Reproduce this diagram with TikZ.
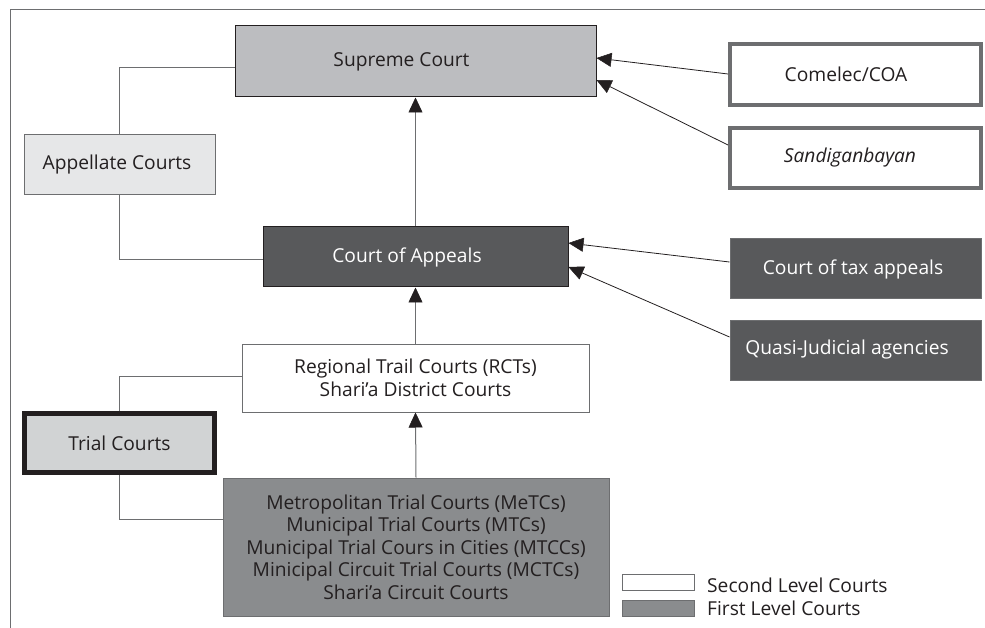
\documentclass[tikz,border=0pt]{standalone}
\usepackage{fontspec}
\setmainfont{Open Sans}
\usetikzlibrary{arrows.meta}
\definecolor{txt}{HTML}{231F20}
\definecolor{supfill}{HTML}{BCBDC0}
\definecolor{appfill}{HTML}{E6E7E8}
\definecolor{darkfill}{HTML}{58595B}
\definecolor{trialfill}{HTML}{D1D3D4}
\definecolor{firstfill}{HTML}{8A8C8E}
\definecolor{linegray}{HTML}{6D6E70}
\definecolor{thickgray}{HTML}{6D6E70}
\tikzset{
  box/.style={draw=txt, line width=1pt, rectangle, inner sep=0pt, font=\fontsize{19.2}{22.5}\selectfont, text=txt, align=center},
  thinline/.style={draw=linegray, line width=1pt},
  arr/.style={draw=txt, line width=0.8pt, -{Triangle[length=15pt,width=14pt,color=txt,line width=0.5pt]}},
  varr/.style={draw=linegray, line width=1pt, -{Triangle[length=15pt,width=14pt,color=txt,line width=0.5pt]}},
  legtext/.style={anchor=base west, font=\fontsize{19.2}{22.5}\selectfont, text=txt, inner sep=0pt},
}
\begin{document}
\begin{tikzpicture}[x=1pt,y=-1pt]
\useasboundingbox (0,0) rectangle (985,628);
% frame
\draw[draw=linegray, line width=1pt] (10,628) -- (10,10) -- (985,10);
% nodes
\node[box, fill=supfill, minimum width=361pt, minimum height=71pt] (sup) at (415.5,61.5) {\hspace*{-28pt}Supreme Court};
\node[box, draw=linegray, fill=appfill, minimum width=191pt, minimum height=60pt] (app) at (119.5,165) {\hspace*{-5pt}Appellate Courts};
\node[box, draw=thickgray, line width=4pt, fill=white, minimum width=251pt, minimum height=61pt] (com) at (855.5,74.5) {\hspace*{-19pt}Comelec/COA};
\node[box, draw=thickgray, line width=4pt, fill=white, minimum width=251pt, minimum height=60pt] (san) at (855.5,158) {\hspace*{-11pt}\textit{Sandiganbayan}};
\node[box, fill=darkfill, text=white, minimum width=305pt, minimum height=60pt] (coa) at (415.5,257) {\hspace*{-17pt}Court of Appeals};
\node[box, draw=linegray, fill=darkfill, text=white, minimum width=251pt, minimum height=60pt] (tax) at (855.5,269) {\hspace*{-5pt}Court of tax appeals};
\node[box, draw=linegray, fill=darkfill, text=white, minimum width=251pt, minimum height=60pt] (qua) at (855.5,350) {\hspace*{-17pt}Quasi-Judicial agencies};
\node[box, draw=linegray, fill=white, minimum width=347pt, minimum height=68pt] (rtc) at (415.5,378) {Regional Trail Courts (RCTs)\\Shari’a District Courts};
\node[box, draw=txt, line width=5pt, fill=trialfill, minimum width=190pt, minimum height=59pt] (trial) at (119.5,443) {Trial Courts};
\node[box, draw=linegray, fill=firstfill, minimum width=386pt, minimum height=138pt] (met) at (416,547) {Metropolitan Trial Courts (MeTCs)\\Municipal Trial Courts (MTCs)\\Municipal Trial Cours in Cities (MTCCs)\\Minicipal Circuit Trial Courts (MCTCs)\\Shari’a Circuit Courts};
% legend
\node[box, draw=linegray, fill=white, minimum width=72pt, minimum height=16pt] (lg2) at (658,582) {};
\node[box, draw=linegray, fill=firstfill, minimum width=72pt, minimum height=16pt] (lg1) at (658,608) {};
\node[legtext] (lt2) at (707,592) {Second Level Courts};
\node[legtext] (lt1) at (707,615) {First Level Courts};
% connectors (brackets)
\draw[thinline] (sup.west |- 0,68) -| (app.north);
\draw[thinline] (app.south) |- (coa.west |- 0,260);
\draw[thinline] (rtc.west |- 0,376) -| (trial.north);
\draw[thinline] (trial.south) |- (met.west |- 0,519);
% arrows
\draw[varr] (coa.north) -- (sup.south);
\draw[varr] (rtc.north) -- (coa.south);
\draw[varr] (met.north) -- (rtc.south);
\draw[arr] (com.west |- 0,74) -- (sup.east |- 0,58);
\draw[arr] (san.west |- 0,145) -- (sup.east |- 0,80);
\draw[arr] (tax.west |- 0,262) -- (coa.east |- 0,243);
\draw[arr] (qua.west |- 0,337) -- (coa.east |- 0,267);
\end{tikzpicture}
\end{document}
